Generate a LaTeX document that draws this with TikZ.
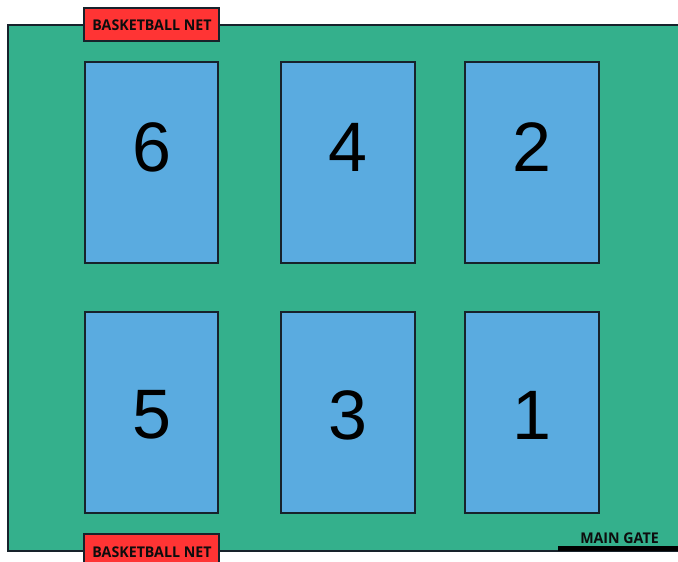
\documentclass[tikz,border=0pt]{standalone}
\usepackage{fontspec}
\setmainfont{Liberation Sans}
\newfontfamily\labfont{Open Sans}
\definecolor{field}{HTML}{34B08C}
\definecolor{court}{HTML}{5AABE0}
\definecolor{netred}{HTML}{FF3434}
\definecolor{edge}{HTML}{17222B}
\begin{document}
\begin{tikzpicture}[x=1pt,y=1pt,
  courtbox/.style={draw=edge,line width=1.8pt,fill=court},
  netbox/.style={draw=edge,line width=1.8pt,fill=netred},
  numtext/.style={font=\fontsize{70}{70}\selectfont,text=black,inner sep=0pt},
  labtext/.style={font=\labfont\bfseries\fontsize{14.8}{15}\selectfont,text=black!95,inner sep=0pt}]
\useasboundingbox (0,0) rectangle (678,562);
\begin{scope}
\clip (0,0) rectangle (678,562);
% field
\draw[draw=edge,line width=1.6pt,fill=field] (8,11) rectangle (690,537);
% courts
\draw[courtbox] (85,299) rectangle (218,500);
\draw[courtbox] (281,299) rectangle (415,500);
\draw[courtbox] (465,299) rectangle (599,500);
\draw[courtbox] (85,49) rectangle (218,250);
\draw[courtbox] (281,49) rectangle (415,250);
\draw[courtbox] (465,49) rectangle (599,250);
% nets
\draw[netbox] (84,521) rectangle (219,554);
\draw[netbox] (84,-4) rectangle (219,28);
% gate
\coordinate (gateL) at (558,13.5);
\coordinate (gateR) at (690,13.5);
\draw[black,line width=4.5pt] (gateL) -- (gateR);
\end{scope}
\node[numtext] (n6) at (152,415) {6};
\node[numtext] (n4) at (348,415) {4};
\node[numtext] (n2) at (532,415) {2};
\node[numtext] (n5) at (152,147) {5};
\node[numtext] (n3) at (348,147) {3};
\node[numtext] (n1) at (532,147) {1};
\node[labtext] (topnet) at (152,537) {\scalebox{0.96}[1]{BASKETBALL NET}};
\node[labtext] (botnet) at (152,10) {\scalebox{0.96}[1]{BASKETBALL NET}};
\node[labtext] (gate) at (619.5,24) {\scalebox{0.96}[1]{MAIN GATE}};
\end{tikzpicture}
\end{document}
